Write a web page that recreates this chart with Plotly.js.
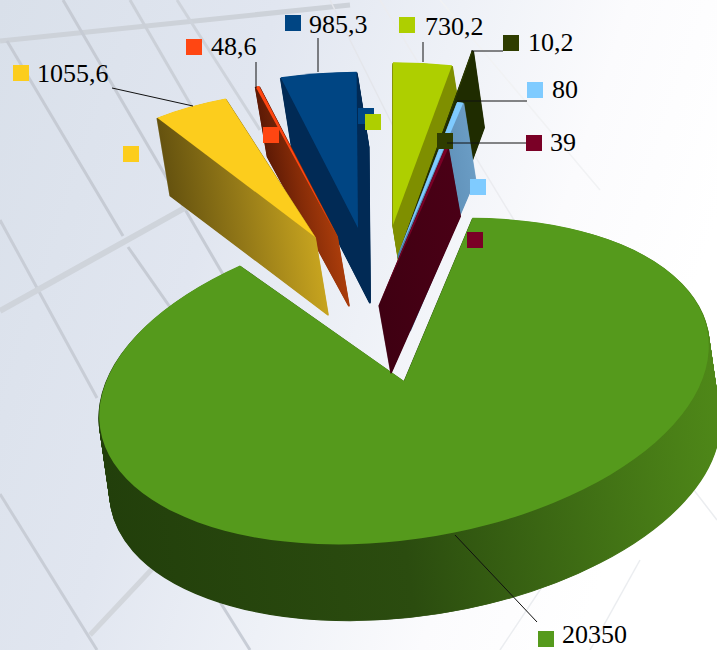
<!DOCTYPE html>
<html><head><meta charset="utf-8">
<script src="https://cdn.plot.ly/plotly-3.0.1.min.js"></script>
<style>
html,body{margin:0;padding:0;width:717px;height:650px;overflow:hidden;
background:linear-gradient(108deg,#d9e0ea 0%,#e1e6f0 30%,#eef1f7 50%,#fbfbfd 68%,#ffffff 85%);}
#c{width:717px;height:650px;}
</style></head><body><div id="c"></div>
<script>
// Data (drawing order, back to front)
var labels  = ['20350','985,3','48,6','1055,6','730,2','10,2','80','39'];
var values  = [20350,985.3,48.6,1055.6,730.2,10.2,80,39];
var colors  = ['#559a1c','#004583','#ff4612','#fccd1d','#aecf00','#2f3d00','#7fcbff','#7a0026'];
// wall gradient stops (left, middle, right)
var wallL   = ['#223f0b','#012a55','#5e1a05','#66530f','#7f8f00','#1f2c00','#4a7aa2','#3f0012'];
var wallM   = ['#2b4c0f','#012a55','#862c08','#957a18','#7f8f00','#1f2c00','#5a8bb3','#450014'];
var wallR   = ['#4e8718','#012a55','#a93c0b','#c6a31f','#7f8f00','#1f2c00','#6a9cc4','#4a0016'];
// geometry on screen: slice apex, start angle, radius, wall offset
var apexX   = [404,358,337,315,393,402,398,379];
var apexY   = [381,228,236,237,225,245,255,305];
var startA  = [13,-15.5,-16.4,-35.5,0,11,11.8,12.8];
var radius  = [305,290,289,272,302,368,290,299];
var wallDX  = [11,12,12,13,12,11,12,12];
var wallDY  = [80,75,70,78,75,77,76,68];
// labels
var lblX = [560,307,209,35,423,526,550,548];
var lblY = [634,25,47,73,26,43,90,142];
var mkX  = [546,293,194,21,407,511,535,534];
var mkY  = [639,23,47,73,25,43,90,143];
var mk2X = [null,366,271,131,373,445,478,475];
var mk2Y = [null,116,135,154,122,141,187,240];
var leadX0=[537,318,256,112,423,503,527,526], leadY0=[622,38,62,88,42,51,101,143];
var leadX1=[455,318,256,193,423,471,457,447], leadY1=[535,72,88,106,62,51,101,143];
// background grid lines
var gridX0=[0,7,128,0,63,130,177,0,0,90,220,330,380,440,500,590,640];
var gridY0=[41,41,247,220,0,0,0,311,494,635,602,0,0,0,650,650,420];
var gridX1=[350,123,200,97,235,240,260,190,97,153,250,430,520,600,560,640,717];
var gridY1=[5,236,350,398,295,190,130,205,650,568,650,200,230,190,560,560,520];
var gridW =[5,3,3,3,3,3,3,6,3,5,3,1.5,1.5,1.5,1.5,1.5,1.5];
var gridC =['#cdd2d9','#c6cbd4','#c6cbd4','#c8cdd6','#c6cbd4','#cbd0d8','#ced3db','#cfd4db','#c8cdd6','#d2d6dc','#c8cdd6','#e4e6eb','#ebecf0','#f1f2f4','#ebedf0','#ebedf0','#ebedf0'];

var total = values.reduce(function(a,b){return a+b;},0);
var W=717,H=650, SX=2.54, SY=1.37, R0=120;
var data=[], sliceOf=[], isWall=[];
function px(x){return 358.5+(x-405)/SX;}
function py(y){return 325+(y-381)/SY;}
function pie(i,ax,ay,rad,col,lw){
  var r=rad/305*R0, cx=px(ax), cy=py(ay);
  return {type:'pie',values:[values[i],total-values[i]],labels:[labels[i],'rest'],
    sort:false,direction:'clockwise',rotation:startA[i],textinfo:'none',hoverinfo:'skip',showlegend:false,
    marker:{colors:[col,'rgba(0,0,0,0)'],line:{width:[lw,0],color:[col,'rgba(0,0,0,0)']}},
    domain:{x:[(cx-r)/W,(cx+r)/W],y:[1-(cy+r)/H,1-(cy-r)/H]}};
}
values.forEach(function(v,i){
  var n=Math.ceil(wallDY[i]/1.0);
  for(var k=n;k>=1;k--){
    var t=k/n;
    data.push(pie(i,apexX[i]+wallDX[i]*t,apexY[i]+wallDY[i]*t,radius[i],wallL[i],0.7));
    sliceOf.push(i); isWall.push(true);
  }
  data.push(pie(i,apexX[i],apexY[i],radius[i],colors[i],0));
  sliceOf.push(i); isWall.push(false);
});

var shapes=[], ann=[];
function fx(x){return x/W;} function fy(y){return 1-y/H;}
gridX0.forEach(function(x,i){
  shapes.push({type:'line',layer:'below',xref:'paper',yref:'paper',x0:fx(x),y0:fy(gridY0[i]),x1:fx(gridX1[i]),y1:fy(gridY1[i]),
    line:{color:gridC[i],width:gridW[i]}});
});
function sq(x,y,c){shapes.push({type:'rect',layer:'above',xref:'paper',yref:'paper',x0:fx(x-8),x1:fx(x+8),y0:fy(y+8),y1:fy(y-8),fillcolor:c,line:{width:0}});}
labels.forEach(function(l,i){
  shapes.push({type:'line',layer:'above',xref:'paper',yref:'paper',x0:fx(leadX0[i]),y0:fy(leadY0[i]),x1:fx(leadX1[i]),y1:fy(leadY1[i]),line:{color:'#111',width:1}});
  sq(mkX[i],mkY[i],colors[i]);
  if(mk2X[i]!==null) sq(mk2X[i],mk2Y[i],colors[i]);
  ann.push({text:l,xref:'paper',yref:'paper',x:fx(lblX[i]),y:fy(lblY[i]),xanchor:'left',yanchor:'middle',showarrow:false,
    font:{family:'Liberation Serif, serif',size:26,color:'#000'}});
});

Plotly.newPlot('c',data,{width:W,height:H,margin:{l:0,r:0,t:0,b:0},paper_bgcolor:'rgba(0,0,0,0)',plot_bgcolor:'rgba(0,0,0,0)',
  showlegend:false,shapes:shapes,annotations:ann},{staticPlot:true,displayModeBar:false}).then(function(){
  var svg=document.querySelector('#c svg.main-svg');
  var NS='http://www.w3.org/2000/svg', defs=document.createElementNS(NS,'defs');
  values.forEach(function(v,i){
    var g=document.createElementNS(NS,'linearGradient'); g.setAttribute('id','wg'+i);
    [[0,wallL[i]],[0.5,wallM[i]],[1,wallR[i]]].forEach(function(s){
      var st=document.createElementNS(NS,'stop'); st.setAttribute('offset',s[0]); st.setAttribute('stop-color',s[1]); g.appendChild(st);
    });
    defs.appendChild(g);
  });
  svg.appendChild(defs);
  var layer=document.querySelector('.pielayer');
  layer.setAttribute('transform','translate(405,381) scale('+SX+','+SY+') translate(-358.5,-325)');
  var SKEW=-0.213, VS=0.97; // the big slice's tilted, slightly flatter ellipse
  var f=325-SKEW*358.5-VS*325;
  layer.querySelectorAll(':scope > .trace').forEach(function(tr,j){
    if(sliceOf[j]===0) tr.setAttribute('transform','matrix(1,'+SKEW+',0,'+VS+',0,'+f+')');
    if(!isWall[j]) return;
    var p=tr.querySelector('.slice path.surface');
    if(p){ p.style.fill='url(#wg'+sliceOf[j]+')'; p.style.stroke='url(#wg'+sliceOf[j]+')'; }
  });
});
</script></body></html>
